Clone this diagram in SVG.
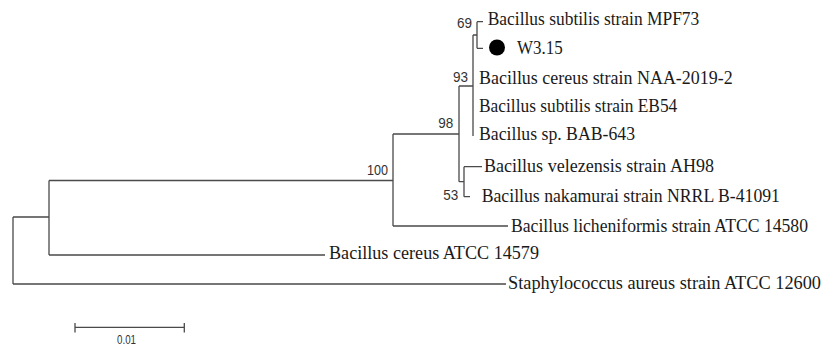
<svg xmlns="http://www.w3.org/2000/svg" width="823" height="346" viewBox="0 0 823 346">
<style>
.br{fill:none;stroke:#4a4a4a;stroke-width:1.3}
.tx{font-family:"Liberation Serif","Times New Roman",serif;font-size:18px;fill:#1a1a1a}
.bs{font-family:"Liberation Sans",Arial,sans-serif;font-size:14px;fill:#333;text-anchor:end}
.sc{font-family:"Liberation Sans",Arial,sans-serif;font-size:13.5px;fill:#333;text-anchor:middle}
</style>
<rect width="823" height="346" fill="#fff"/>
<g id="connectors">
<path class="br" d="M13,217V284M13,217H49M13,284H506"/>
<path class="br" d="M49,180.5V255M49,180.5H393M49,255H325"/>
<path class="br" d="M393,134V226M393,134H459M393,226H508"/>
<path class="br" d="M459,86V181.7M459,86H473M459,181.7H464"/>
<path class="br" d="M464,166.7V196.7M464,166.7H482M464,196.7H470"/>
<path class="br" d="M473,35V136M473,35H477"/>
<path class="br" d="M477,21.7V48.3M477,21.7H483M477,48.3H483"/>
</g>
<g id="n-mpf73"><text class="tx" x="487.7" y="25" textLength="211.6" lengthAdjust="spacingAndGlyphs">Bacillus subtilis strain MPF73</text></g>
<g id="n-w315"><circle cx="497" cy="47.5" r="8" fill="#000"/><text class="tx" x="517" y="54" textLength="45.7" lengthAdjust="spacingAndGlyphs">W3.15</text></g>
<g id="n-naa"><text class="tx" x="479" y="83.5" textLength="253.7" lengthAdjust="spacingAndGlyphs">Bacillus cereus strain NAA-2019-2</text></g>
<g id="n-eb54"><text class="tx" x="479" y="112" textLength="198.3" lengthAdjust="spacingAndGlyphs">Bacillus subtilis strain EB54</text></g>
<g id="n-bab"><text class="tx" x="479" y="140" textLength="156" lengthAdjust="spacingAndGlyphs">Bacillus sp. BAB-643</text></g>
<g id="n-ah98"><text class="tx" x="484" y="172" textLength="230" lengthAdjust="spacingAndGlyphs">Bacillus velezensis strain AH98</text></g>
<g id="n-nrrl"><text class="tx" x="481.7" y="202" textLength="298.3" lengthAdjust="spacingAndGlyphs">Bacillus nakamurai strain NRRL B-41091</text></g>
<g id="n-lich"><text class="tx" x="511" y="232" textLength="297" lengthAdjust="spacingAndGlyphs">Bacillus licheniformis strain ATCC 14580</text></g>
<g id="n-cereus"><text class="tx" x="329" y="258.5" textLength="210" lengthAdjust="spacingAndGlyphs">Bacillus cereus ATCC 14579</text></g>
<g id="n-staph"><text class="tx" x="508" y="288.5" textLength="313" lengthAdjust="spacingAndGlyphs">Staphylococcus aureus strain ATCC 12600</text></g>
<g id="bootstrap">
<text class="bs" x="472" y="28.3" textLength="15" lengthAdjust="spacingAndGlyphs">69</text>
<text class="bs" x="468" y="81.7" textLength="15" lengthAdjust="spacingAndGlyphs">93</text>
<text class="bs" x="453.3" y="128.3" textLength="15" lengthAdjust="spacingAndGlyphs">98</text>
<text class="bs" x="388" y="175" textLength="21" lengthAdjust="spacingAndGlyphs">100</text>
<text class="bs" x="458.3" y="200" textLength="15" lengthAdjust="spacingAndGlyphs">53</text>
</g>
<g id="scale">
<path class="br" d="M75,327.3H184.3M75,323V332.5M184.3,323V332.5"/>
<text class="sc" x="126.5" y="343.5" textLength="19" lengthAdjust="spacingAndGlyphs">0.01</text>
</g>
</svg>
